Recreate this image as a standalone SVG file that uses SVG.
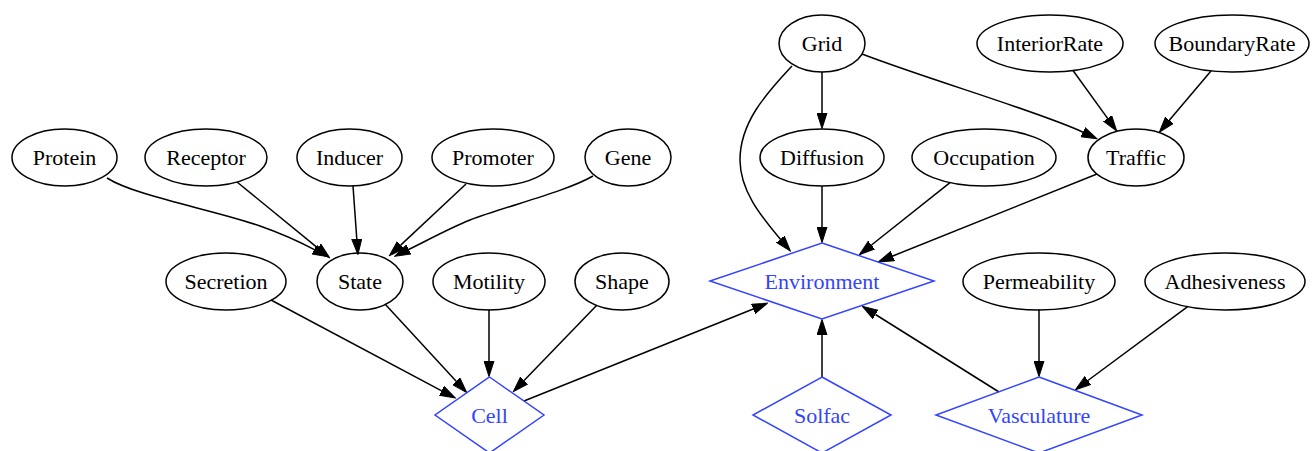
<svg xmlns="http://www.w3.org/2000/svg" width="1314" height="451" viewBox="0 0 1314 451">
<style>
.n ellipse{fill:none;stroke:#000;stroke-width:1.5}
.d polygon{fill:none;stroke:#3344ff;stroke-width:1.5}
text{font-family:"Liberation Serif","Times New Roman",serif;font-size:22px;text-anchor:middle;fill:#000}
.d text{fill:#3344ff}
.e path{fill:none;stroke:#000;stroke-width:1.5;marker-end:url(#a)}
</style>
<defs>
<marker id="a" viewBox="0 0 16 11" refX="0" refY="5.5" markerWidth="16" markerHeight="11" markerUnits="userSpaceOnUse" orient="auto">
<path d="M0,0.5 L15.5,5.5 L0,10.5 z" fill="#000" stroke="#000" stroke-width="1"/>
</marker>
</defs>
<rect width="1314" height="451" fill="#fff"/>
<g class="e" id="edges">
<path d="M107,178 C135,196 215,210 260,226 C280,233 298,241 314.4,249.6"/>
<path d="M237,182 L317.6,247.9"/>
<path d="M353,186 L356.8,239"/>
<path d="M466,184 L400.7,245.1"/>
<path d="M593,176 C565,192 510,205 470,220 C450,228 428,240 408.6,249.5"/>
<path d="M271,300 L441.7,390.8"/>
<path d="M385,304 L456.2,381.2"/>
<path d="M489,309.5 L489,361"/>
<path d="M597,305 L524.1,380.5"/>
<path d="M524,401 L753.2,309"/>
<path d="M792,66 C770,90 740,120 740,160 C740,190 760,215 780.4,239.2"/>
<path d="M822,72 L822,113"/>
<path d="M862,54 C930,80 1040,112 1083,132.2"/>
<path d="M1073,70.5 L1107.6,118.4"/>
<path d="M1211,70.9 L1169.3,120.3"/>
<path d="M822,186 L822,227"/>
<path d="M950,182.6 L871.5,245"/>
<path d="M1097,174 L892.8,256"/>
<path d="M822,377 L822,335"/>
<path d="M999,392 L875.5,314.5"/>
<path d="M1039,309.5 L1039,361"/>
<path d="M1188,306.3 L1087.9,380.5"/>
</g>
<g class="n" id="Grid"><ellipse cx="822" cy="43.5" rx="43" ry="28.5"/><text x="822" y="51">Grid</text></g>
<g class="n" id="InteriorRate"><ellipse cx="1050" cy="43.5" rx="73" ry="28.5"/><text x="1050" y="51">InteriorRate</text></g>
<g class="n" id="BoundaryRate"><ellipse cx="1232" cy="43.5" rx="77" ry="28.5"/><text x="1232" y="51">BoundaryRate</text></g>
<g class="n" id="Protein"><ellipse cx="64.5" cy="157.5" rx="52.5" ry="28.5"/><text x="64.5" y="165">Protein</text></g>
<g class="n" id="Receptor"><ellipse cx="206" cy="157.5" rx="61" ry="28.5"/><text x="206" y="165">Receptor</text></g>
<g class="n" id="Inducer"><ellipse cx="349.5" cy="157.5" rx="52.5" ry="28.5"/><text x="349.5" y="165">Inducer</text></g>
<g class="n" id="Promoter"><ellipse cx="493" cy="157.5" rx="61" ry="28.5"/><text x="493" y="165">Promoter</text></g>
<g class="n" id="Gene"><ellipse cx="628" cy="157.5" rx="43" ry="28.5"/><text x="628" y="165">Gene</text></g>
<g class="n" id="Diffusion"><ellipse cx="822" cy="157.5" rx="62" ry="28.5"/><text x="822" y="165">Diffusion</text></g>
<g class="n" id="Occupation"><ellipse cx="984" cy="157.5" rx="72" ry="28.5"/><text x="984" y="165">Occupation</text></g>
<g class="n" id="Traffic"><ellipse cx="1136" cy="157.5" rx="48" ry="28.5"/><text x="1136" y="165">Traffic</text></g>
<g class="n" id="Secretion"><ellipse cx="226" cy="281.5" rx="60" ry="28.5"/><text x="226" y="289">Secretion</text></g>
<g class="n" id="State"><ellipse cx="360" cy="281.5" rx="43" ry="28.5"/><text x="360" y="289">State</text></g>
<g class="n" id="Motility"><ellipse cx="489" cy="281.5" rx="56" ry="28.5"/><text x="489" y="289">Motility</text></g>
<g class="n" id="Shape"><ellipse cx="622" cy="281.5" rx="47" ry="28.5"/><text x="622" y="289">Shape</text></g>
<g class="d" id="Environment"><polygon points="822,243 934,281 822,319 710,281"/><text x="822" y="289">Environment</text></g>
<g class="n" id="Permeability"><ellipse cx="1039" cy="281.5" rx="76" ry="28.5"/><text x="1039" y="289">Permeability</text></g>
<g class="n" id="Adhesiveness"><ellipse cx="1225" cy="281.5" rx="80" ry="28.5"/><text x="1225" y="289">Adhesiveness</text></g>
<g class="d" id="Cell"><polygon points="489.5,377 544,415 489.5,453 435,415"/><text x="489.5" y="423">Cell</text></g>
<g class="d" id="Solfac"><polygon points="822,377 891,415 822,453 753,415"/><text x="822" y="423">Solfac</text></g>
<g class="d" id="Vasculature"><polygon points="1039,377 1142,415 1039,453 936,415"/><text x="1039" y="423">Vasculature</text></g>
</svg>
